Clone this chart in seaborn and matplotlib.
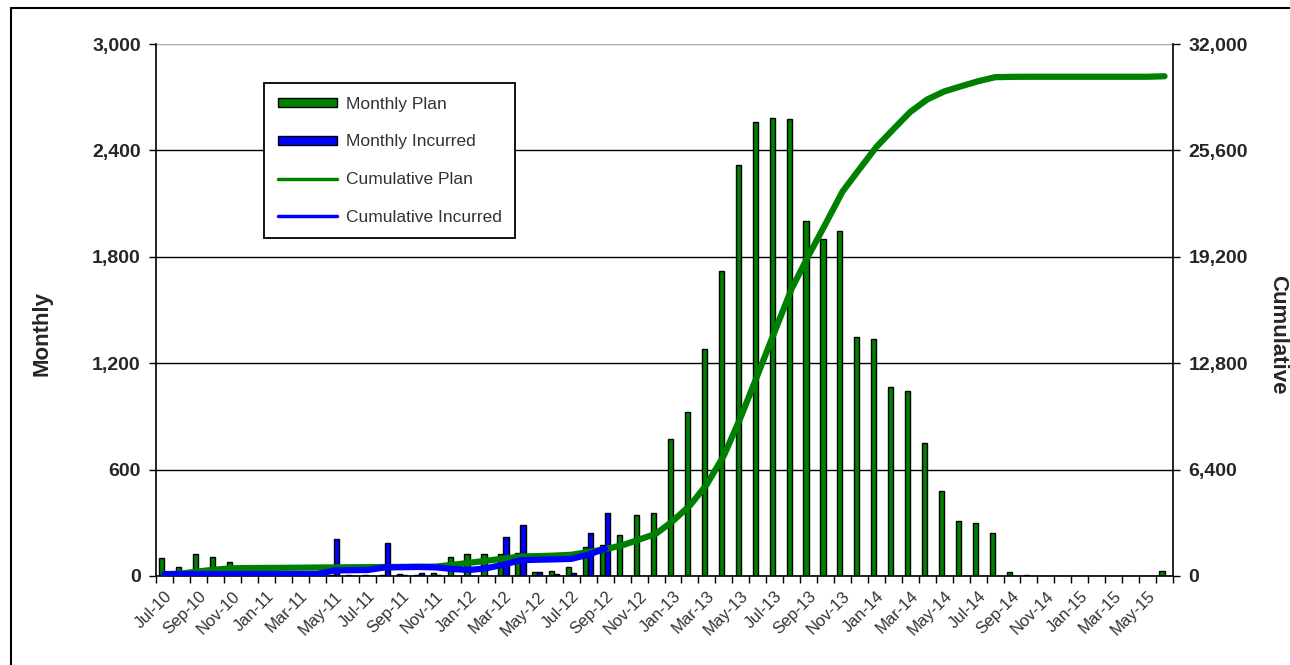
import numpy as np
import pandas as pd
import matplotlib
matplotlib.use("Agg")
import matplotlib.pyplot as plt
import seaborn as sns
from matplotlib.patches import Patch
from matplotlib.lines import Line2D
from matplotlib.ticker import FuncFormatter

# Months Jul-10 .. Jun-15
months = pd.date_range("2010-07-01", periods=60, freq="MS").strftime("%b-%y").tolist()

monthly_plan = [100, 50, 124, 109, 79, 12, 8, 6, 8, 10, 8, 6, 8, 6, 10, 6, 15,
                107, 124, 124, 124, 131, 20, 30, 51, 163, 175,
                231, 344, 353, 771, 927, 1278, 1720, 2318, 2562, 2584, 2575,
                2000, 1899, 1945, 1350, 1336, 1064, 1043, 750, 481, 312, 301,
                244, 21, 6, 0, 0, 0, 0, 0, 0, 0, 30]

monthly_incurred = [0, 0, 0, 0, 0, 0, 0, 0, 0, 0, 209, 0, 0, 188, 8, 15, 6,
                    0, 0, 0, 222, 290, 20, 10, 17, 245, 353]

cum_plan = [100, 150, 275, 385, 465, 478, 486, 492, 500, 510, 518, 524, 532,
            538, 548, 554, 565, 672, 796, 920, 1044, 1175, 1195, 1225, 1276,
            1440, 1615, 1846, 2190, 2543, 3314, 4241, 5519, 7239, 9557, 12119,
            14703, 17278, 19278, 21177, 23122, 24472, 25808, 26872, 27915,
            28665, 29146, 29458, 29759, 30003, 30024, 30030, 30030, 30030,
            30030, 30030, 30030, 30030, 30030, 30060]

cum_incurred = [115, 115, 115, 115, 115, 115, 115, 115, 115, 120, 330, 350,
                360, 520, 530, 545, 520, 420, 360, 470, 680, 950, 980, 1000,
                1030, 1280, 1640]

green = "#008000"
blue = "#0000FF"

sns.set_theme(style="white")
plt.rcParams["font.family"] = ["Liberation Sans", "DejaVu Sans"]

# long table for the grouped bars
incurred_full = monthly_incurred + [np.nan] * (len(months) - len(monthly_incurred))
df = pd.DataFrame({
    "Month": months * 2,
    "Value": monthly_plan + incurred_full,
    "Series": ["Monthly Plan"] * len(months) + ["Monthly Incurred"] * len(months),
})

fig = plt.figure(figsize=(12.9, 6.65), dpi=100)
ax = fig.add_axes([156 / 1290, 1 - 576 / 665, 1017 / 1290, 532 / 665])

sns.barplot(data=df, x="Month", y="Value", hue="Series",
            palette={"Monthly Plan": green, "Monthly Incurred": blue},
            width=0.6, saturation=1, edgecolor="black", linewidth=1,
            legend=False, ax=ax)

ax.set_xlim(-0.5, len(months) - 0.5)
ax.set_ylim(0, 3000)
ax.set_yticks(np.arange(0, 3001, 600))
ax.yaxis.set_major_formatter(FuncFormatter(lambda v, p: f"{int(v):,}"))
ax.set_axisbelow(True)
ax.yaxis.grid(True, color="black", linewidth=1)
ax.get_ygridlines()[-1].set_color("#aaaaaa")
ax.set_xlabel("")
ax.set_ylabel("")

# x ticks: marks at category boundaries, labels every 2nd month
ax.set_xticks(range(0, len(months), 2))
ax.set_xticklabels(months[::2], rotation=45, ha="right", rotation_mode="anchor",
                   fontsize=12, color="#333333")
ax.set_xticks(np.arange(-0.5, len(months), 1), minor=True)
ax.tick_params(axis="x", which="major", length=0, pad=9)
ax.tick_params(axis="x", which="minor", length=5, width=1, color="black", direction="out", bottom=True)
ax.tick_params(axis="y", length=5, width=1, color="black", direction="out", left=True,
               labelsize=14, pad=6)
for t in ax.get_yticklabels():
    t.set_fontweight("bold")

for s in ["left", "bottom"]:
    ax.spines[s].set_color("black")
    ax.spines[s].set_linewidth(1.2)
ax.spines["top"].set_visible(False)
ax.spines["right"].set_visible(False)

# cumulative lines on the secondary axis
ax2 = ax.twinx()
sns.lineplot(x=np.arange(len(cum_plan)), y=cum_plan, color=green, linewidth=4.5,
             solid_capstyle="round", ax=ax2)
sns.lineplot(x=np.arange(len(cum_incurred)), y=cum_incurred, color=blue, linewidth=4.5,
             solid_capstyle="round", ax=ax2)
ax2.set_ylim(0, 32000)
ax2.set_yticks(np.arange(0, 32001, 6400))
ax2.yaxis.set_major_formatter(FuncFormatter(lambda v, p: f"{int(v):,}"))
ax2.tick_params(axis="y", length=5, width=1, color="black", direction="out", right=True,
                labelsize=14, pad=6)
for t in ax2.get_yticklabels():
    t.set_fontweight("bold")
for s in ["left", "top", "bottom"]:
    ax2.spines[s].set_visible(False)
ax2.spines["right"].set_color("black")
ax2.spines["right"].set_linewidth(1.2)
ax2.set_xlim(-0.5, len(months) - 0.5)

fig.text(42 / 1290, 1 - 333 / 665, "Monthly", rotation=90, ha="center", va="center",
         fontsize=16, fontweight="bold")
fig.text(1278 / 1290, 1 - 335 / 665, "Cumulative", rotation=270, ha="center", va="center",
         fontsize=16, fontweight="bold")

handles = [
    Patch(facecolor=green, edgecolor="black", label="Monthly Plan"),
    Patch(facecolor=blue, edgecolor="black", label="Monthly Incurred"),
    Line2D([0], [0], color=green, linewidth=2.5, label="Cumulative Plan"),
    Line2D([0], [0], color=blue, linewidth=2.5, label="Cumulative Incurred"),
]
leg = ax2.legend(handles=handles, loc="upper left", bbox_to_anchor=(264 / 1290, 1 - 83 / 665),
                 bbox_transform=fig.transFigure, frameon=True, fancybox=False,
                 edgecolor="black", framealpha=1, fontsize=12.5, labelspacing=1.3,
                 handlelength=3.4, handleheight=0.45, handletextpad=0.5,
                 borderpad=0.8, borderaxespad=0)
leg.get_frame().set_linewidth(1.3)
for t in leg.get_texts():
    t.set_color("#333333")

# outer chart border (clipped at right and bottom)
fig.add_artist(Line2D([11 / 1290, 1], [1 - 8 / 665, 1 - 8 / 665], transform=fig.transFigure,
                      color="black", linewidth=1.5))
fig.add_artist(Line2D([11 / 1290, 11 / 1290], [0, 1 - 8 / 665], transform=fig.transFigure,
                      color="black", linewidth=1.5))

fig.savefig("out.png", dpi=100, facecolor="white")
